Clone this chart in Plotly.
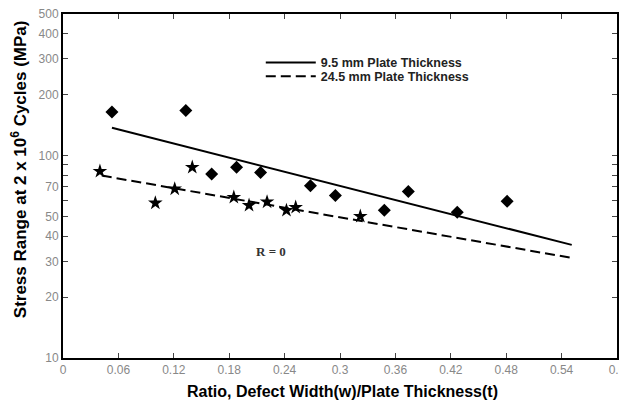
import plotly.graph_objects as go

# 9.5 mm plate thickness data (diamonds)
thin_x = [0.053, 0.133, 0.161, 0.188, 0.214, 0.268, 0.295, 0.348, 0.374, 0.427, 0.481]
thin_y = [164, 167, 81, 87.5, 82.4, 71, 63.4, 53.6, 66.5, 52.4, 59.4]

# 24.5 mm plate thickness data (stars)
thick_x = [0.040, 0.100, 0.121, 0.140, 0.185, 0.2015, 0.221, 0.242, 0.252, 0.322]
thick_y = [83.6, 58.3, 68.4, 87.5, 62.2, 56.8, 59.0, 53.6, 55.5, 50.1]

# fitted lines (end points)
fit_thin_x = [0.053, 0.551]
fit_thin_y = [137, 36.2]
fit_thick_x = [0.042, 0.551]
fit_thick_y = [79.6, 31.2]

x_ticks = [0, 0.06, 0.12, 0.18, 0.24, 0.3, 0.36, 0.42, 0.48, 0.54, 0.6]
x_labels = ["0", "0.06", "0.12", "0.18", "0.24", "0.3", "0.36", "0.42", "0.48", "0.54", "0.6"]
y_ticks = [10, 20, 30, 40, 50, 60, 70, 80, 90, 100, 200, 300, 400, 500]
y_labels = ["10", "20", "30", "40", "50", "", "70", "", "", "100", "200", "300", "400", "500"]

legend_font = dict(size=12.5, color="#222", family="Liberation Sans, Arial, sans-serif")

fig = go.Figure()
fig.add_trace(go.Scatter(x=fit_thin_x, y=fit_thin_y, mode="lines", legend="legend",
                         line=dict(color="black", width=2), name="<b>9.5 mm Plate Thickness</b>"))
fig.add_trace(go.Scatter(x=fit_thick_x, y=fit_thick_y, mode="lines", legend="legend2",
                         line=dict(color="black", width=2, dash="10px,5px"),
                         name="<b>24.5 mm Plate Thickness</b>"))
fig.add_trace(go.Scatter(x=thin_x, y=thin_y, mode="markers", showlegend=False,
                         marker=dict(symbol="diamond", size=10, color="black")))
fig.add_trace(go.Scatter(x=thick_x, y=thick_y, mode="markers", showlegend=False,
                         marker=dict(symbol="star", size=11, color="black")))

fig.add_annotation(x=0.225, y=1.525, xref="x", yref="y", text="<b>R = 0</b>", showarrow=False,
                   font=dict(family="Liberation Serif, serif", size=13, color="#333"))
# axis titles
fig.add_annotation(x=0.505, y=-0.096, xref="paper", yref="paper", xanchor="center", yanchor="middle",
                   text="<b>Ratio, Defect Width(w)/Plate Thickness(t)</b>", showarrow=False,
                   font=dict(size=16, color="black"))
fig.add_annotation(x=-0.0805, y=0.55, xref="paper", yref="paper", xanchor="center", yanchor="middle",
                   textangle=-90, text="<b>Stress Range at 2 x 10<sup>6</sup> Cycles (MPa)</b>",
                   showarrow=False, font=dict(size=17, color="black"))

# page body has an 8px margin, so the figure is sized/offset to compensate
fig.update_layout(
    width=619, height=395,
    margin=dict(l=55, r=10, t=6, b=45, autoexpand=False),
    plot_bgcolor="white", paper_bgcolor="white",
    font=dict(family="Liberation Sans, Arial, sans-serif", color="black"),
    showlegend=True,
    legend=dict(x=0.357, y=0.8576, xanchor="left", yanchor="middle", bgcolor="rgba(0,0,0,0)",
                font=legend_font, itemwidth=50),
    legend2=dict(x=0.357, y=0.818, xanchor="left", yanchor="middle", bgcolor="rgba(0,0,0,0)",
                 font=legend_font, itemwidth=50),
    xaxis=dict(range=[0, 0.6], tickvals=x_ticks, ticktext=x_labels, ticks="inside", ticklen=5,
               showline=True, linecolor="black", linewidth=2, mirror="allticks", showgrid=False,
               zeroline=False, tickfont=dict(size=12, color="#888"), automargin=False,
               ticklabeloverflow="allow"),
    yaxis=dict(type="log", range=[1, 2.69897], tickvals=y_ticks, ticktext=y_labels,
               ticks="inside", ticklen=5, showline=True, linecolor="black", linewidth=2,
               mirror="allticks", showgrid=False, zeroline=False, automargin=False,
               tickfont=dict(size=12, color="#888"), ticklabeloverflow="allow"),
)

fig.write_html("out.html")
